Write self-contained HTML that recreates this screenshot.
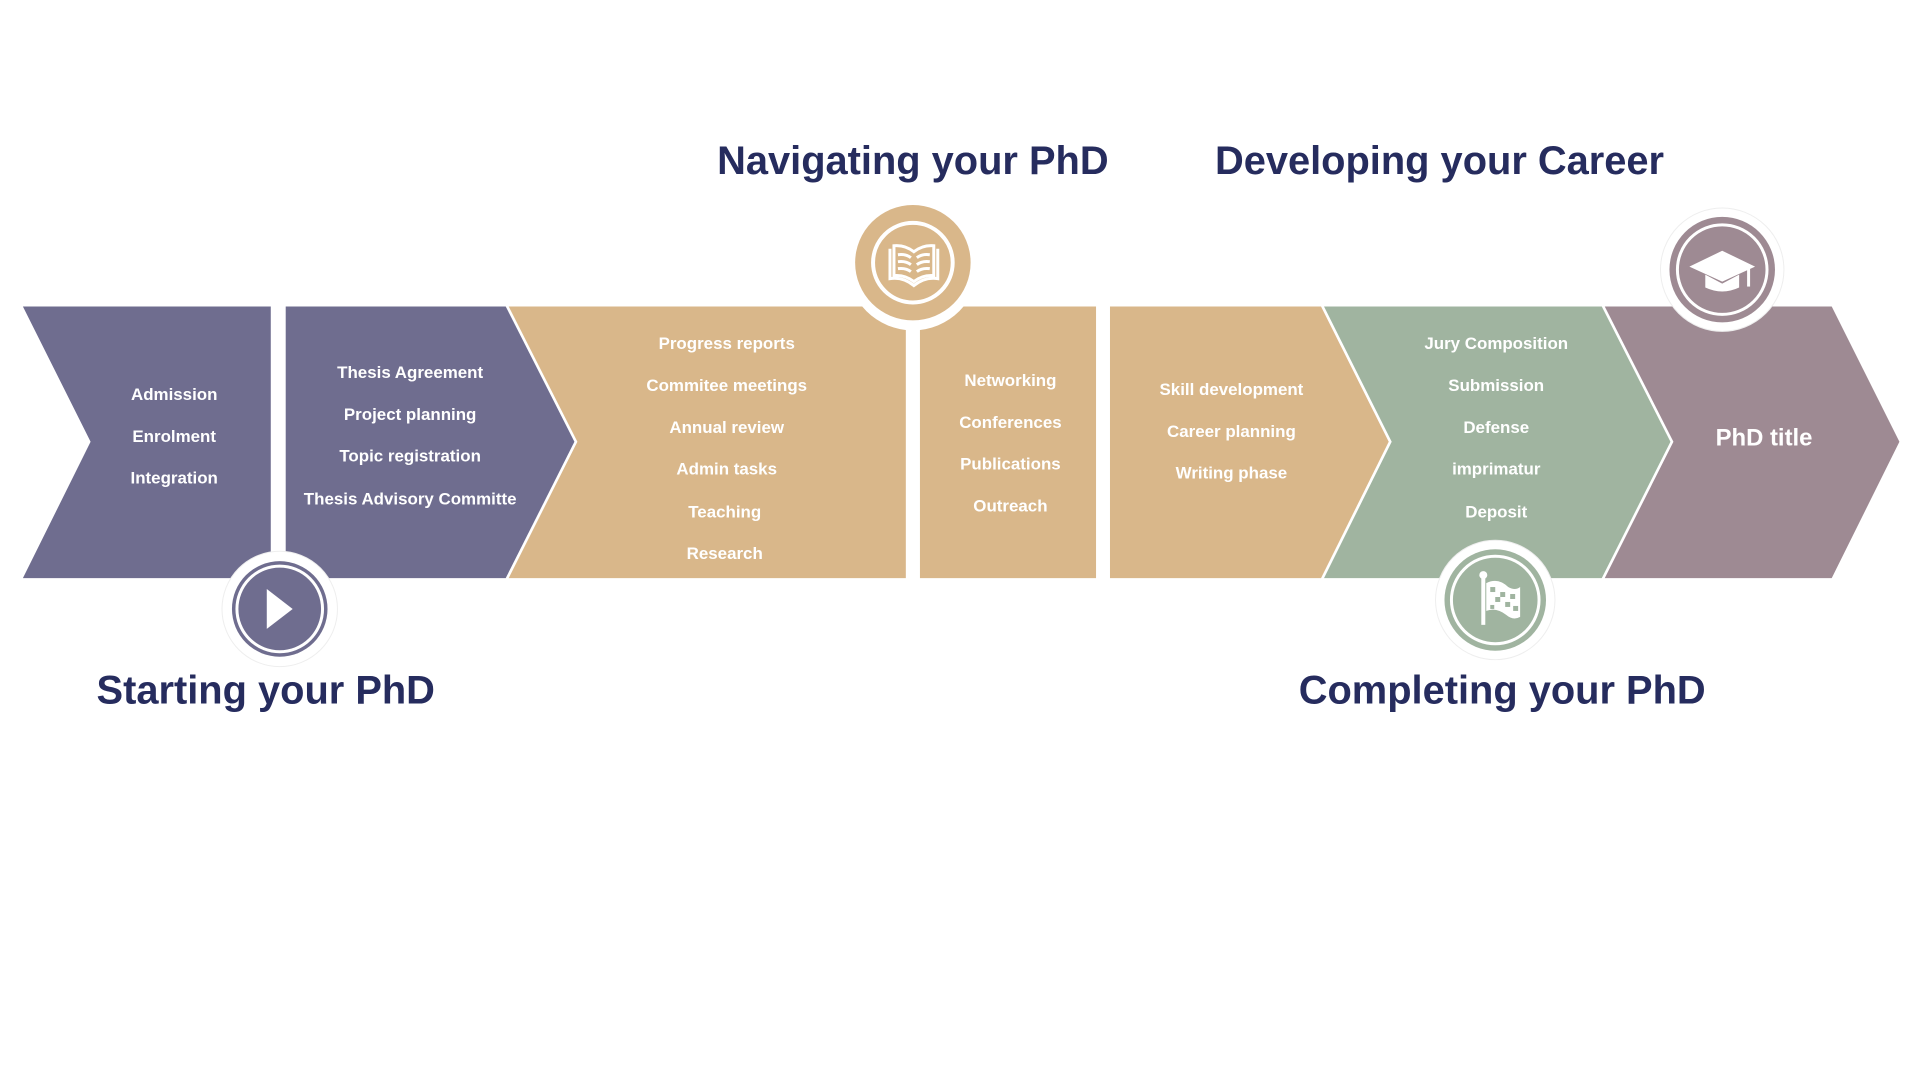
<!DOCTYPE html>
<html><head><meta charset="utf-8"><style>
html,body{margin:0;padding:0;background:#fff;}
svg{display:block;}
text{font-family:"Liberation Sans",sans-serif;font-weight:bold;}
.t{fill:#fff;font-size:17px;text-anchor:middle;}
.h{fill:#262c5e;font-size:40px;}
</style></head><body>
<svg width="1920" height="1080" viewBox="0 0 1920 1080" xmlns="http://www.w3.org/2000/svg">
<g transform="scale(0.9955,0.995)">
<polygon points="23,308 272,308 272,581 23,581 91,444" fill="#6f6d8f"/>
<polygon points="287,308 508,308 577,444 508,581 287,581" fill="#6f6d8f"/>
<polygon points="511,308 910,308 910,581 511,581 580,444" fill="#d9b78a"/>
<polygon points="924,308 1101,308 1101,581 924,581" fill="#d9b78a"/>
<polygon points="1115,308 1327,308 1395,444 1327,581 1115,581" fill="#d9b78a"/>
<polygon points="1330,308 1609,308 1678,444 1609,581 1330,581 1398,444" fill="#a0b4a0"/>
<polygon points="1612,308 1840,308 1908,444 1840,581 1612,581 1681,444" fill="#9e8a93"/>

<g transform="translate(5,0)">
<circle cx="912" cy="266" r="66" fill="#fff"/>
<rect x="905" y="300" width="14" height="282" fill="#fff"/>
<circle cx="912" cy="264" r="58" fill="#d9b78a"/>
<circle cx="912" cy="264" r="40" fill="none" stroke="#fff" stroke-width="4"/>
<g stroke="#fff" stroke-width="3" fill="none">
<path d="M889,250 L889,280 Q902,278 913,287 Q924,278 937,280 L937,250"/>
<path d="M893,247 Q904,246 913,253 Q922,246 933,247 L933,277 Q922,276 913,283 Q904,276 893,277 Z"/>
<path d="M897,256 Q905,255 910,259 M897,263 Q905,262 910,266 M897,270 Q905,269 910,273 M916,259 Q921,255 929,256 M916,266 Q921,262 929,263 M916,273 Q921,269 929,270"/>
</g>
</g>

<circle cx="281" cy="612" r="58" fill="#fff" stroke="#eee" stroke-width="1"/>
<circle cx="281" cy="612" r="48" fill="#6f6d8f"/>
<circle cx="281" cy="612" r="43" fill="none" stroke="#fff" stroke-width="3"/>
<polygon points="268,592 268,632 294,612" fill="#fff"/>

<circle cx="1502" cy="603" r="60" fill="#fff" stroke="#eee" stroke-width="1"/>
<circle cx="1502" cy="603" r="51" fill="#a0b4a0"/>
<circle cx="1502" cy="603" r="44" fill="none" stroke="#fff" stroke-width="3"/>
<rect x="1488" y="578" width="4" height="50" fill="#fff"/>
<circle cx="1490" cy="578" r="4" fill="#fff"/>
<path d="M1493,586 Q1505,580 1515,590 Q1522,594 1527,590 L1527,620 Q1520,624 1513,618 Q1503,610 1493,614 Z" fill="#fff"/>
<g fill="#a0b4a0"><rect x="1497" y="590" width="5" height="5"/><rect x="1507" y="595" width="5" height="5"/><rect x="1517" y="597" width="5" height="5"/><rect x="1502" y="600" width="5" height="5"/><rect x="1512" y="605" width="5" height="5"/><rect x="1497" y="608" width="4" height="4"/><rect x="1520" y="609" width="5" height="5"/></g>

<circle cx="1730" cy="271" r="62" fill="#fff" stroke="#eee" stroke-width="1"/>
<circle cx="1730" cy="271" r="53" fill="#9e8a93"/>
<circle cx="1730" cy="271" r="45" fill="none" stroke="#fff" stroke-width="3"/>
<polygon points="1697,268 1730,252 1763,268 1730,283" fill="#fff"/>
<path d="M1713,276 L1713,289 Q1730,297 1747,289 L1747,276 L1730,285 Z" fill="#fff"/>
<rect x="1755" y="268" width="3" height="20" fill="#fff"/>

<g class="t">
<text x="175" y="402">Admission</text><text x="175" y="444">Enrolment</text><text x="175" y="486">Integration</text>
<text x="412" y="380">Thesis Agreement</text><text x="412" y="422">Project planning</text><text x="412" y="464">Topic registration</text><text x="412" y="507">Thesis Advisory Committe</text>
<text x="730" y="351">Progress reports</text><text x="730" y="393">Commitee meetings</text><text x="730" y="435">Annual review</text><text x="730" y="477">Admin tasks</text><text x="728" y="520">Teaching</text><text x="728" y="562">Research</text>
<text x="1015" y="388">Networking</text><text x="1015" y="430">Conferences</text><text x="1015" y="472">Publications</text><text x="1015" y="514">Outreach</text>
<text x="1237" y="397">Skill development</text><text x="1237" y="439">Career planning</text><text x="1237" y="481">Writing phase</text>
<text x="1503" y="351">Jury Composition</text><text x="1503" y="393">Submission</text><text x="1503" y="435">Defense</text><text x="1503" y="477">imprimatur</text><text x="1503" y="520">Deposit</text>
<text x="1772" y="448" style="font-size:24px">PhD title</text>
</g>
<text class="h" x="917" y="175" text-anchor="middle">Navigating your PhD</text>
<text class="h" x="1446" y="175" text-anchor="middle">Developing your Career</text>
<text class="h" x="97" y="707">Starting your PhD</text>
<text class="h" x="1509" y="707" text-anchor="middle">Completing your PhD</text>
</g>
</svg>
</body></html>
